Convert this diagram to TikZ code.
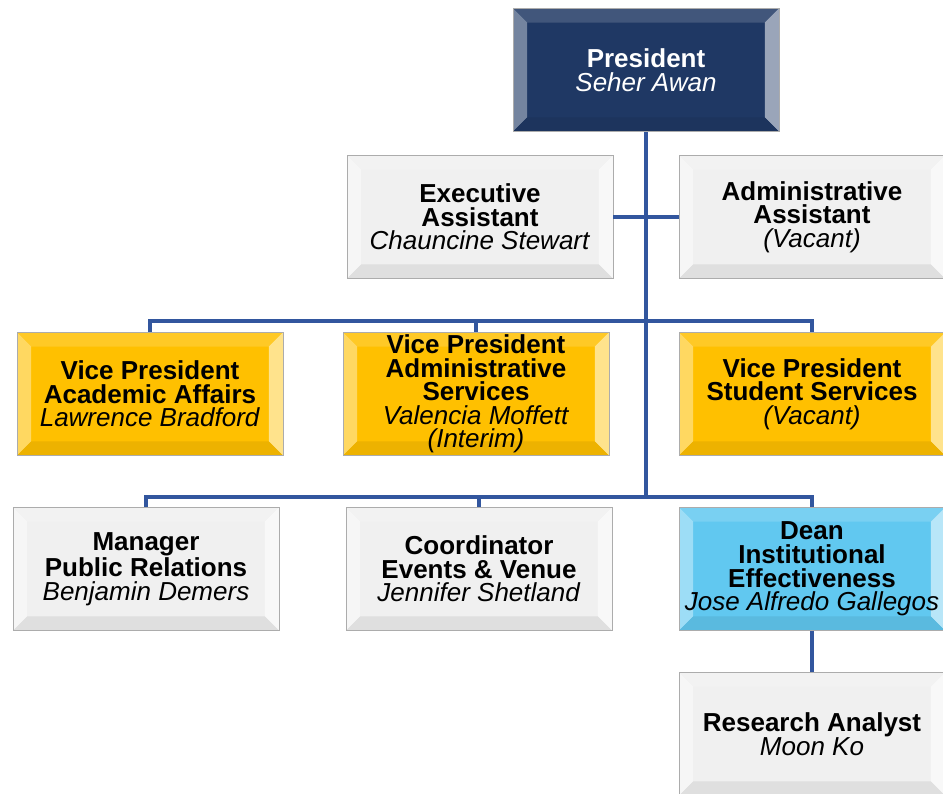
\documentclass[tikz,border=0pt]{standalone}
\usepackage{fontspec}
\setmainfont{Liberation Sans}
\usetikzlibrary{positioning}

\definecolor{navy}{RGB}{31,56,100}
\definecolor{paper}{RGB}{240,240,240}
\definecolor{gold}{RGB}{255,192,0}
\definecolor{sky}{RGB}{97,200,240}
\definecolor{wire}{RGB}{50,86,158}

\begin{document}
\begin{tikzpicture}[
        x=0.02cm, y=-0.02cm,
        box/.style={rectangle, draw=gray!65, fill=#1, minimum width=5.32cm,
            minimum height=2.46cm, inner sep=0pt, align=center,
            font=\fontsize{14.8}{13.4}\selectfont,
            path picture={
                \coordinate (pa) at (path picture bounding box.north west);
                \coordinate (pb) at (path picture bounding box.north east);
                \coordinate (pc) at (path picture bounding box.south east);
                \coordinate (pd) at (path picture bounding box.south west);
                \fill[#1!85!white] (pa) -- (pb) -- ([shift={(-8pt,-8pt)}]pb)
                    -- ([shift={(8pt,-8pt)}]pa) -- cycle;
                \fill[#1!62!white] (pa) -- (pd) -- ([shift={(8pt,8pt)}]pd)
                    -- ([shift={(8pt,-8pt)}]pa) -- cycle;
                \fill[#1!45!white] (pb) -- (pc) -- ([shift={(-8pt,8pt)}]pc)
                    -- ([shift={(-8pt,-8pt)}]pb) -- cycle;
                \fill[#1!93!black] (pd) -- (pc) -- ([shift={(-8pt,8pt)}]pc)
                    -- ([shift={(8pt,8pt)}]pd) -- cycle;
            }},
        conn/.style={draw=wire, line width=2.2pt}
    ]
        \useasboundingbox (0,0) rectangle (943,794);

        \node[box=navy, text=white] (pres) at (646,70)
            {\textbf{President}\\\textit{Seher Awan}};
        \node[box=paper] (exec) at (480,217)
            {\textbf{Executive}\\\textbf{Assistant}\\\textit{Chauncine Stewart}};
        \node[box=paper] (admin) at (812,217)
            {\textbf{Administrative}\\\textbf{Assistant}\\\textit{(Vacant)}};

        \node[box=gold] (vpaa) at (150,394)
            {\textbf{Vice President}\\\textbf{Academic Affairs}\\\textit{Lawrence Bradford}};
        \node[box=gold] (vpas) at (476,394)
            {\textbf{Vice President}\\\textbf{Administrative}\\\textbf{Services}\\\textit{Valencia Moffett}\\\textit{(Interim)}};
        \node[box=gold] (vpss) at (812,394)
            {\textbf{Vice President}\\\textbf{Student Services}\\\textit{(Vacant)}};

        \node[box=paper] (mgr) at (146,569)
            {\textbf{Manager}\\\textbf{Public Relations}\\\textit{Benjamin Demers}};
        \node[box=paper] (coord) at (479,569)
            {\textbf{Coordinator}\\\textbf{Events \& Venue}\\\textit{Jennifer Shetland}};
        \node[box=sky] (dean) at (812,569)
            {\textbf{Dean}\\\textbf{Institutional}\\\textbf{Effectiveness}\\\textit{Jose Alfredo Gallegos}};
        \node[box=paper] (ra) at (812,734)
            {\textbf{Research Analyst}\\\textit{Moon Ko}};

        \coordinate (j1) at (646,321);
        \coordinate (j2) at (646,497);

        \draw[conn] (pres.south) -- (j2);
        \draw[conn] (exec.east) -- (admin.west);
        \draw[conn] (j1) -| (vpaa.north);
        \draw[conn] (j1) -| (vpas.north);
        \draw[conn] (j1) -| (vpss.north);
        \draw[conn] (j2) -| (mgr.north);
        \draw[conn] (j2) -| (coord.north);
        \draw[conn] (j2) -| (dean.north);
        \draw[conn] (dean.south) -- (ra.north);
    \end{tikzpicture}
\end{document}
